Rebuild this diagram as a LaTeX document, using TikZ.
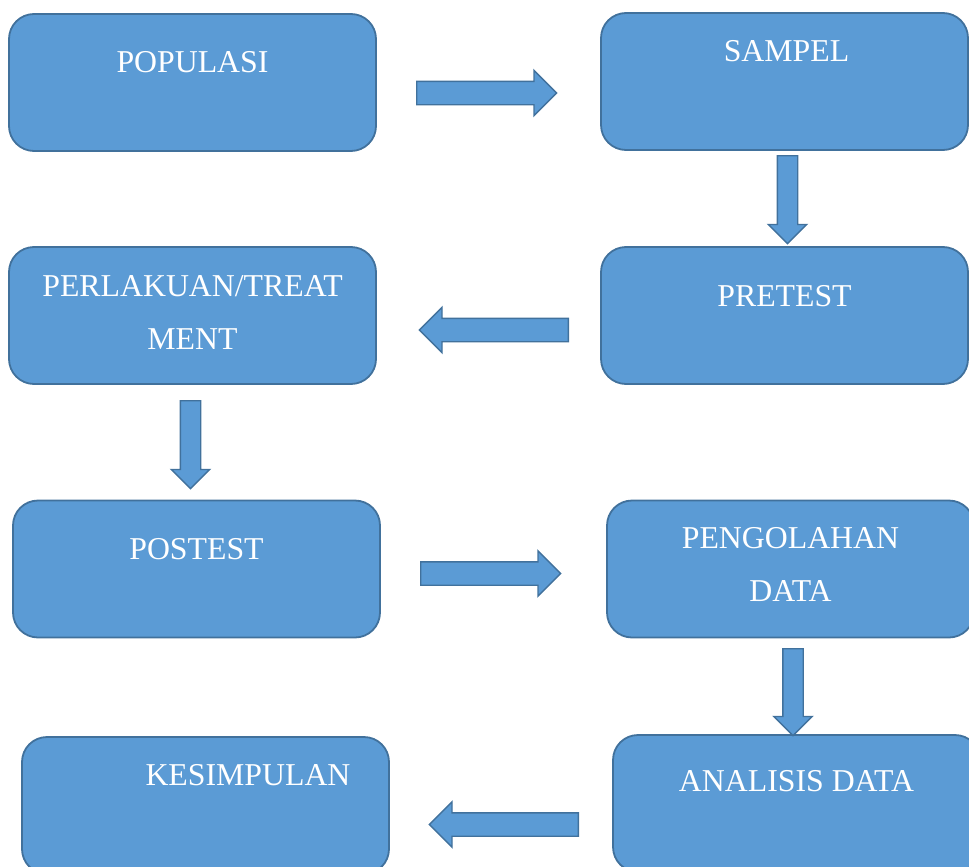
\documentclass[tikz,border=0pt]{standalone}
\usepackage{fontspec}
\setmainfont{Liberation Serif}
\usetikzlibrary{shapes.arrows}

\definecolor{boxfill}{RGB}{91,155,213}
\definecolor{boxline}{RGB}{65,113,156}

\begin{document}
\begin{tikzpicture}[
  x=1pt, y=-1pt,
  stage/.style={draw=boxline, fill=boxfill, line width=1.8pt, rounded corners=25pt,
    minimum width=367pt, minimum height=137pt, inner sep=0pt},
  stagetext/.style={text=white, font=\fontsize{31.8}{53}\selectfont, align=center,
    anchor=base, inner sep=0pt},
  flow/.style={single arrow, draw=boxline, fill=boxfill, line width=1.4pt, anchor=tail,
    single arrow head indent=0pt, single arrow tip angle=90},
  sidearrow/.style={flow, inner sep=11pt, minimum height=140pt, single arrow head extend=11pt},
  downarrow/.style={flow, inner sep=9.5pt, minimum height=88pt, single arrow head extend=9pt,
    shape border rotate=270}
]
\clip (0,0) rectangle (969,867);

% stages of the procedure
\node[stage] (pop) at (192.5,82.5) {};
\node[stage] (sam) at (784.5,81.5) {};
\node[stage] (per) at (192.5,315.5) {};
\node[stage] (pre) at (784.5,315.5) {};
\node[stage] (pos) at (196.5,569) {};
\node[stage] (pen) at (790.5,569) {};
\node[stage] (kes) at (205.5,805.5) {};
\node[stage] (ana) at (796.5,803.5) {};

% two-line texts sit on the baseline of their last line
\node[stagetext] (popT) at ([yshift=-59pt]pop.north) {POPULASI};
\node[stagetext] (samT) at ([xshift=2pt,yshift=-49pt]sam.north) {SAMPEL};
\node[stagetext] (perT) at ([yshift=-103pt]per.north) {PERLAKUAN/TREAT\\MENT};
\node[stagetext] (preT) at ([yshift=-60pt]pre.north) {PRETEST};
\node[stagetext] (posT) at ([yshift=-60pt]pos.north) {POSTEST};
\node[stagetext] (penT) at ([yshift=-102pt]pen.north) {PENGOLAHAN\\DATA};
\node[stagetext] (kesT) at ([xshift=42.5pt,yshift=-49pt]kes.north) {KESIMPULAN};
\node[stagetext] (anaT) at ([yshift=-57pt]ana.north) {ANALISIS DATA};

% block arrows between the stages, placed by their tails
\node[sidearrow] (a1) at (416,93) {};
\node[downarrow] (a2) at (787.5,155) {};
\node[sidearrow, minimum height=149pt, shape border rotate=180] (a3) at (569,330) {};
\node[downarrow] (a4) at (190.5,400) {};
\node[sidearrow] (a5) at (420,573.5) {};
\node[downarrow, minimum height=87pt] (a6) at (793,648) {};
\node[sidearrow, minimum height=149pt, shape border rotate=180] (a7) at (579,824.5) {};
\end{tikzpicture}
\end{document}
